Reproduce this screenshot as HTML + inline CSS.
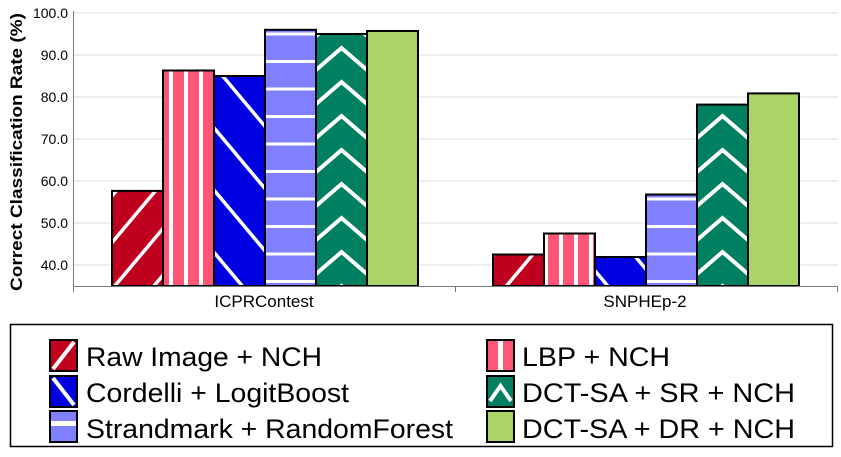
<!DOCTYPE html>
<html><head><meta charset="utf-8"><style>
html,body{margin:0;padding:0;background:#fff;width:841px;height:457px;overflow:hidden}
svg{display:block;font-family:"Liberation Sans",Arial,sans-serif}
</style></head><body>
<svg width="841" height="457" xmlns="http://www.w3.org/2000/svg">
<defs>
<pattern id="pRaw" patternUnits="userSpaceOnUse" width="30" height="30" patternTransform="rotate(40)">
<rect width="30" height="30" fill="#C0001F"/><rect x="0" y="0" width="3.5" height="30" fill="#fff"/></pattern>
<pattern id="pLBP" patternUnits="userSpaceOnUse" width="15" height="10" x="163">
<rect width="15" height="10" fill="#FF5577"/><rect x="6" width="4" height="10" fill="#fff"/></pattern>
<pattern id="pCor" patternUnits="userSpaceOnUse" width="40" height="40" patternTransform="rotate(-40)">
<rect width="40" height="40" fill="#0000E0"/><rect x="0" width="3.5" height="40" fill="#fff"/></pattern>
<pattern id="pStr" patternUnits="userSpaceOnUse" width="10" height="27.5" y="5">
<rect width="10" height="27.5" fill="#8080FF"/><rect y="0" width="10" height="3" fill="#fff"/></pattern>
<pattern id="pDct" patternUnits="userSpaceOnUse" width="51" height="34" x="316" y="8">
<rect width="51" height="34" fill="#008060"/><polyline points="0,28 25.5,6 51,28" fill="none" stroke="#fff" stroke-width="4"/></pattern>
<pattern id="pDct2" patternUnits="userSpaceOnUse" width="51" height="34" x="697" y="8">
<rect width="51" height="34" fill="#008060"/><polyline points="0,28 25.5,6 51,28" fill="none" stroke="#fff" stroke-width="4"/></pattern>
<pattern id="pStrl" patternUnits="userSpaceOnUse" width="10" height="32" y="421">
<rect width="10" height="32" fill="#8080FF"/><rect width="10" height="5" fill="#fff"/></pattern>
</defs>
<g stroke="#ddd" stroke-width="1">
<line x1="73" x2="838" y1="13" y2="13"/><line x1="73" x2="838" y1="55" y2="55"/>
<line x1="73" x2="838" y1="97" y2="97"/><line x1="73" x2="838" y1="139" y2="139"/>
<line x1="73" x2="838" y1="181" y2="181"/><line x1="73" x2="838" y1="223" y2="223"/>
<line x1="73" x2="838" y1="265" y2="265"/>
</g>
<g font-size="14" text-anchor="end" fill="#000">
<text x="68" y="18">100.0</text><text x="68" y="60">90.0</text><text x="68" y="102">80.0</text>
<text x="68" y="144">70.0</text><text x="68" y="186">60.0</text><text x="68" y="228">50.0</text>
<text x="68" y="270">40.0</text>
</g>
<text transform="translate(22,152) rotate(-90)" font-size="17" font-weight="bold" text-anchor="middle" textLength="278" lengthAdjust="spacingAndGlyphs">Correct Classification Rate (%)</text>
<g stroke="#000" stroke-width="2">
<rect x="112" y="190.9" width="51" height="95.1" fill="url(#pRaw)"/>
<rect x="163" y="70.5" width="51" height="215.5" fill="url(#pLBP)"/>
<rect x="214" y="76" width="51" height="210" fill="url(#pCor)"/>
<rect x="265" y="29.8" width="51" height="256.2" fill="url(#pStr)"/>
<rect x="316" y="34" width="51" height="252" fill="url(#pDct)"/>
<rect x="367" y="31" width="51" height="255" fill="#AAD466"/>
<rect x="493" y="254.5" width="51" height="31.5" fill="url(#pRaw)"/>
<rect x="544" y="233.5" width="51" height="52.5" fill="url(#pLBP)"/>
<rect x="595" y="257" width="51" height="29" fill="url(#pCor)"/>
<rect x="646" y="194.5" width="51" height="91.5" fill="url(#pStr)"/>
<rect x="697" y="104.6" width="51" height="181.4" fill="url(#pDct2)"/>
<rect x="748" y="93.4" width="51" height="192.6" fill="#AAD466"/>
</g>
<g stroke="#777" stroke-width="1">
<line x1="73.5" x2="73.5" y1="11" y2="292"/>
<line x1="73" x2="838" y1="286.5" y2="286.5"/>
<line x1="455.5" x2="455.5" y1="286" y2="292"/>
<line x1="837.5" x2="837.5" y1="286" y2="292"/>
</g>
<text x="264" y="307" font-size="17" text-anchor="middle">ICPRContest</text>
<text x="645" y="307" font-size="17" text-anchor="middle">SNPHEp-2</text>
<rect x="10.5" y="324.5" width="822" height="122" fill="none" stroke="#000" stroke-width="1.5"/>
<g stroke="#000" stroke-width="2">
<rect x="50" y="340" width="27" height="31" fill="#C0001F"/>
<rect x="50" y="376" width="27" height="31" fill="#0000E0"/>
<rect x="50" y="411" width="27" height="31" fill="url(#pStrl)"/>
<rect x="487" y="340" width="27" height="31" fill="#FF5577"/>
<rect x="487" y="376" width="27" height="31" fill="#008060"/>
<rect x="487" y="411" width="27" height="31" fill="#AAD466"/>
</g>
<rect x="498" y="341" width="5" height="29" fill="#fff"/>
<polyline points="490,401 500.5,386 511,401" fill="none" stroke="#fff" stroke-width="4"/>
<line x1="53" y1="369" x2="74" y2="342" stroke="#fff" stroke-width="4"/>
<line x1="53" y1="378" x2="74" y2="405" stroke="#fff" stroke-width="4"/>
<g font-size="27" fill="#000" lengthAdjust="spacingAndGlyphs">
<text x="86" y="366" textLength="236" lengthAdjust="spacingAndGlyphs">Raw Image + NCH</text>
<text x="86" y="402" textLength="263" lengthAdjust="spacingAndGlyphs">Cordelli + LogitBoost</text>
<text x="86" y="438" textLength="367" lengthAdjust="spacingAndGlyphs">Strandmark + RandomForest</text>
<text x="522" y="366" textLength="148" lengthAdjust="spacingAndGlyphs">LBP + NCH</text>
<text x="522" y="402" textLength="273" lengthAdjust="spacingAndGlyphs">DCT-SA + SR + NCH</text>
<text x="522" y="438" textLength="273" lengthAdjust="spacingAndGlyphs">DCT-SA + DR + NCH</text>
</g>
</svg>
</body></html>
